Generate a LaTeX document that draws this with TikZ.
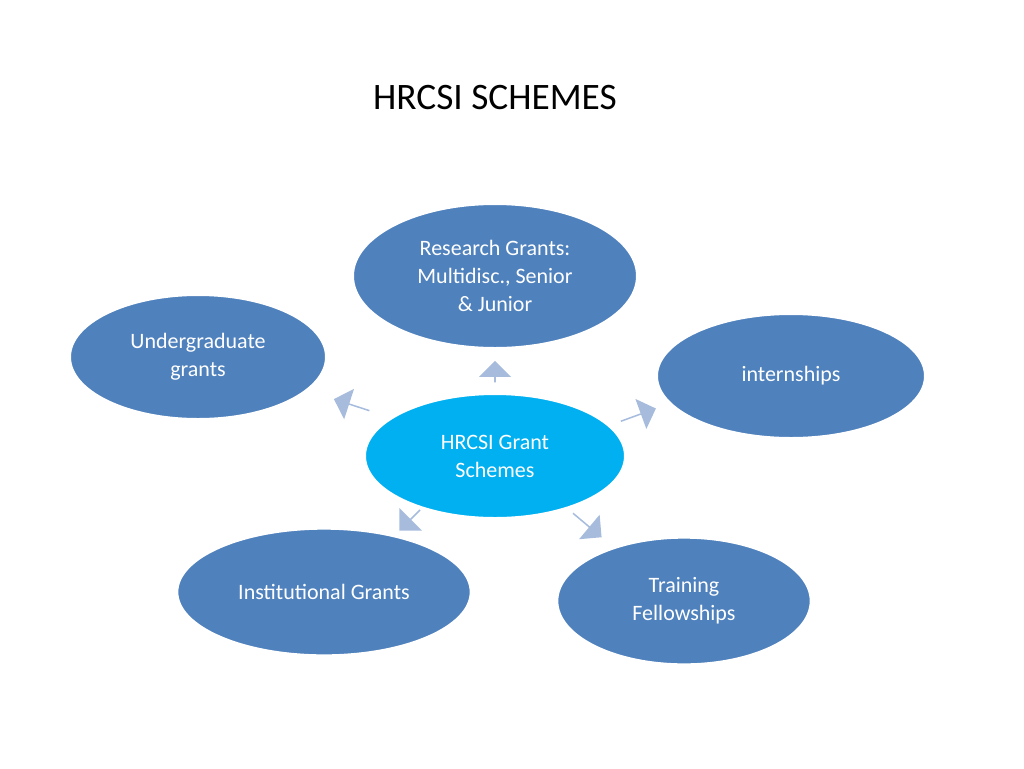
\documentclass[tikz,border=0pt]{standalone}
\usepackage{fontspec}
\setmainfont{Carlito}
\usetikzlibrary{shapes.geometric,shapes.arrows}
\definecolor{blu}{HTML}{4F81BD}
\definecolor{cyn}{HTML}{00B0F0}
\definecolor{arr}{HTML}{A7BCDD}
\begin{document}
\begin{tikzpicture}[x=0.75pt,y=-0.75pt,
  ell/.style={ellipse,fill=blu,draw=white,line width=1.5pt,text=white,font=\fontsize{16.5}{21}\selectfont,align=center,inner sep=0pt},
  arw/.style={single arrow,fill=arr,draw=none,minimum height=28pt,minimum width=24pt,single arrow head extend=4pt,inner sep=0pt}]
\useasboundingbox (0,0) rectangle (1024,768);
\node[font=\fontsize{28}{32}\selectfont] (t) at (495,98) {HRCSI SCHEMES};
\node[ell,minimum width=213pt,minimum height=108pt] (r) at (495,276) {Research Grants:\\Multidisc., Senior\\\& Junior};
\node[ell,minimum width=192pt,minimum height=93pt] (u) at (198,357) {Undergraduate\\grants};
\node[ell,minimum width=201pt,minimum height=93pt] (i) at (791,376) {internships};
\node[ell,minimum width=220pt,minimum height=95pt] (n) at (324,592) {Institutional Grants};
\node[ell,minimum width=190pt,minimum height=95pt] (f) at (684,601) {Training\\Fellowships};
\node[ell,fill=cyn,minimum width=195pt,minimum height=93pt] (c) at (495,456) {HRCSI Grant\\Schemes};
\node[arw,rotate=90,minimum height=16pt] (a1) at (495,372) {};
\node[arw,rotate=162] (a2) at (352,405) {};
\node[arw,rotate=20] (a3) at (638,415) {};
\node[arw,rotate=-40] (a4) at (587,525) {};
\node[arw,rotate=-135,minimum height=22pt] (a5) at (410,520) {};
\end{tikzpicture}
\end{document}
